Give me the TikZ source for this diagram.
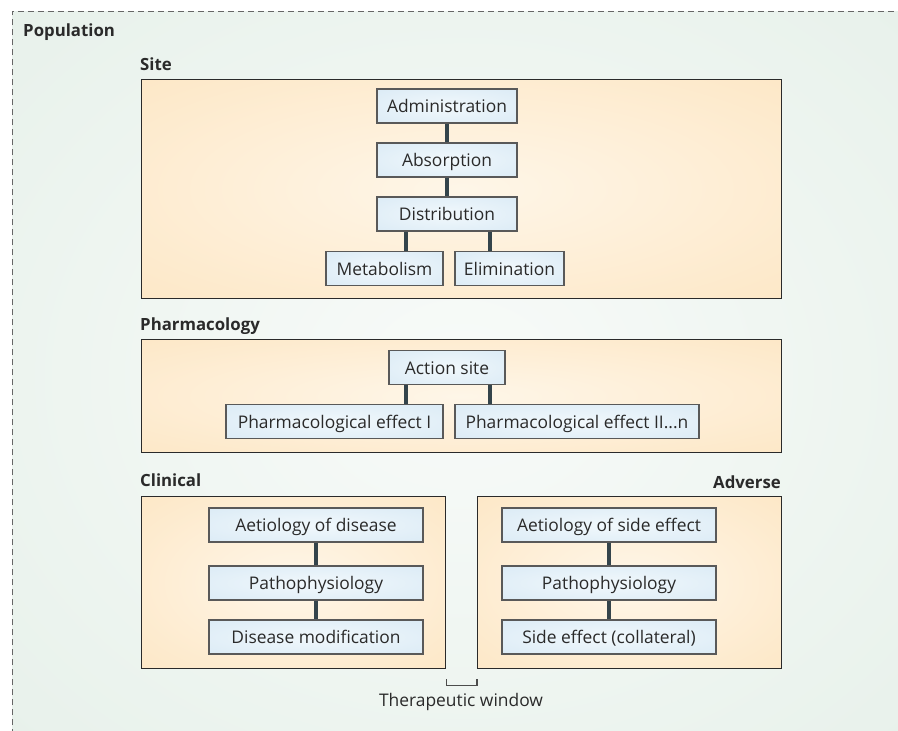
\documentclass[tikz,border=0pt]{standalone}
\usepackage{fontspec}
\setmainfont{Open Sans}
\definecolor{popin}{HTML}{F8FBF9}
\definecolor{popout}{HTML}{E1EDE5}
\definecolor{panelin}{HTML}{FEF6E8}
\definecolor{panelout}{HTML}{FDE2BA}
\definecolor{itemin}{HTML}{F1F8FC}
\definecolor{itemout}{HTML}{D3E6F3}
\definecolor{inkgray}{HTML}{2A2A2A}
\definecolor{linkgray}{HTML}{34444B}
\pgfdeclareradialshading{popglow}{\pgfpoint{0bp}{0bp}}{color(0bp)=(popin); color(50bp)=(popout)}
\pgfdeclareradialshading{panelglow}{\pgfpoint{0bp}{0bp}}{color(0bp)=(panelin); color(50bp)=(panelout)}
\pgfdeclareradialshading{itemglow}{\pgfpoint{0bp}{0bp}}{color(0bp)=(itemin); color(50bp)=(itemout)}
\tikzset{
  popframe/.style={draw=black!60, line width=0.9pt, dash pattern=on 6pt off 4pt},
  panel/.style={draw=inkgray, line width=1.3pt, shading=panelglow, anchor=north west, inner sep=0pt},
  item/.style={draw=black!65, line width=1.3pt, shading=itemglow, minimum height=34pt, inner sep=0pt, text height=13pt, text depth=0pt, text=inkgray},
  heading/.style={font=\fontsize{16.8}{20}\selectfont\bfseries, text=inkgray, inner sep=0pt},
  link/.style={draw=linkgray, line width=3.2pt},
  bracket/.style={draw=black!70, line width=1.3pt}
}
\begin{document}
\fontsize{17.4}{20}\selectfont
\begin{tikzpicture}[x=1pt,y=-1pt]
\useasboundingbox (0,0) rectangle (898,731);
\shade[shading=popglow] (12,11) rectangle (910,745);
\draw[popframe] (12,745) -- (12,11) -- (910,11);
\node[heading, anchor=base west] (population) at (23,36) {Population};

\node[heading, anchor=base west] (sitelabel) at (140,70) {Site};
\node[panel, minimum width=640pt, minimum height=219pt] (site) at (141,79) {};
\node[item, minimum width=140pt] (admin) at (447,106) {Administration};
\node[item, minimum width=140pt] (absorp) at (447,160) {Absorption};
\node[item, minimum width=140pt] (distrib) at (447,214) {Distribution};
\node[item, minimum width=117pt] (metab) at (384.5,268.5) {Metabolism};
\node[item, minimum width=109pt] (elim) at (509.5,268.5) {Elimination};
\draw[link] (admin) -- (absorp);
\draw[link] (absorp) -- (distrib);
\draw[link] ([xshift=-41pt]distrib.south) -- ([xshift=-41pt]distrib.south |- metab.north);
\draw[link] ([xshift=43pt]distrib.south) -- ([xshift=43pt]distrib.south |- elim.north);

\node[heading, anchor=base west] (pharmalabel) at (140,330) {Pharmacology};
\node[panel, minimum width=640pt, minimum height=113pt] (pharma) at (141,339) {};
\node[item, minimum width=116pt] (action) at (447,367.5) {Action site};
\node[item, minimum width=217pt] (effectone) at (334.5,421.5) {Pharmacological effect I};
\node[item, minimum width=244pt] (effectmany) at (577,421.5) {Pharmacological effect II...n};
\draw[link] ([xshift=-41pt]action.south) -- ([xshift=-41pt]action.south |- effectone.north);
\draw[link] ([xshift=43pt]action.south) -- ([xshift=43pt]action.south |- effectmany.north);

\node[heading, anchor=base west] (clinicallabel) at (140,486) {Clinical};
\node[panel, minimum width=304pt, minimum height=172pt] (clinical) at (141,496) {};
\node[item, minimum width=214pt] (aetdisease) at (316,525) {Aetiology of disease};
\node[item, minimum width=214pt] (pathdisease) at (316,583) {Pathophysiology};
\node[item, minimum width=214pt] (diseasemod) at (316,637) {Disease modification};
\draw[link] (aetdisease) -- (pathdisease);
\draw[link] (pathdisease) -- (diseasemod);

\node[heading, anchor=base east] (adverselabel) at (781,488) {Adverse};
\node[panel, minimum width=304pt, minimum height=172pt] (adverse) at (477,496) {};
\node[item, minimum width=214pt] (aetside) at (609,525) {Aetiology of side effect};
\node[item, minimum width=214pt] (pathside) at (609,583) {Pathophysiology};
\node[item, minimum width=214pt] (sideeffect) at (609,637) {Side effect (collateral)};
\draw[link] (aetside) -- (pathside);
\draw[link] (pathside) -- (sideeffect);

\draw[bracket] ([yshift=-10pt]clinical.south east) -- ++(0,6) -| ([yshift=-10pt]adverse.south west);
\node[text=inkgray, anchor=base, inner sep=0pt] (window) at (461,706) {Therapeutic window};
\end{tikzpicture}
\end{document}
